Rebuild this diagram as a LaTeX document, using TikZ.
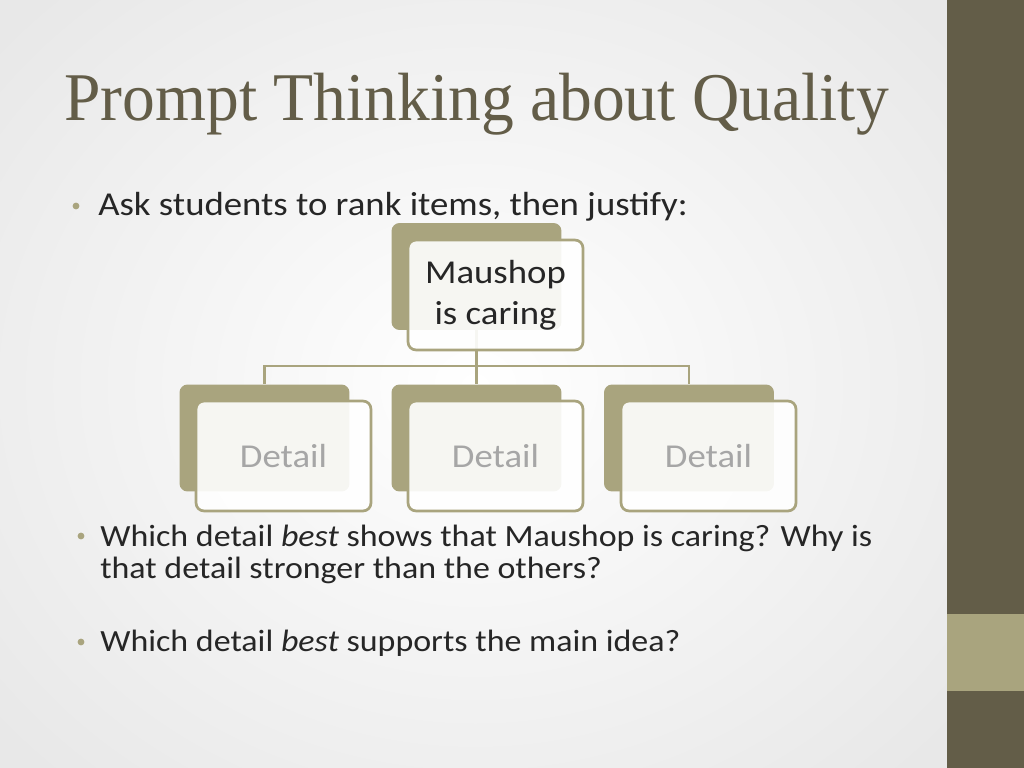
\documentclass[tikz,border=0pt]{standalone}
\usepackage{fontspec}
\setmainfont[FakeStretch=1.1]{Carlito}
\newfontfamily\titlefont[FakeStretch=0.96]{Liberation Serif}
\usetikzlibrary{positioning}

\definecolor{olive}{HTML}{635D48}
\definecolor{tan}{HTML}{A9A47E}
\definecolor{ink}{HTML}{262626}
\definecolor{soft}{HTML}{A6A6A6}

\tikzset{
  backbox/.style={fill=tan, rounded corners=5.6pt, minimum width=119.5pt, minimum height=75.2pt},
  frontbox/.style={draw=tan, line width=1.9pt, fill=white, fill opacity=0.9, text opacity=1,
    rounded corners=5.6pt, minimum width=123pt, minimum height=77.3pt, align=center,
    font=\fontsize{23.5}{29}\selectfont},
  link/.style={draw=tan, line width=1.8pt},
  bullet/.style={circle, fill=tan, inner sep=0pt, minimum size=4.8pt},
  bodytext/.style={anchor=base west, inner sep=0pt, text=ink, align=left}
}

\begin{document}
\begin{tikzpicture}[x=0.703125pt, y=-0.703125pt]
\useasboundingbox (0,0) rectangle (1024,768);
% background and side bar
\shade[inner color=white, outer color=black!9] (-150,-150) rectangle (1100,920);
\fill[olive] (947,0) rectangle (1024,768);
\fill[tan] (947,614) rectangle (1024,691);

% title and bullets
\node[anchor=base west, inner sep=0pt, text=olive, font=\titlefont\fontsize{48}{48}\selectfont] (title) at (64,121) {Prompt Thinking about Quality};
\node[bullet] (b1) at (76,206) {};
\node[bodytext, font=\fontsize{23.5}{29}\selectfont] (t1) at (98,216) {Ask students to rank items, then justify:};

% hierarchy
\node[backbox] (topb) at (476.5,276.5) {};
\node[backbox] (d1b) at (264.5,438) {};
\node[backbox] (d2b) at (476.5,438) {};
\node[backbox] (d3b) at (689,438) {};
\coordinate (bus) at (476.5,366);
\draw[link] (topb.south) -- (bus);
\draw[link] (d1b.north) |- (bus) -| (d3b.north);
\draw[link] (bus) -- (d2b.north);
\node[frontbox, text=ink] (top) at (495.5,295) {Maushop\\is caring};
\node[frontbox, text=soft] (d1) at (283.5,456) {Detail};
\node[frontbox, text=soft] (d2) at (495.5,456) {Detail};
\node[frontbox, text=soft] (d3) at (708.5,456) {Detail};

\node[bullet] (b2) at (81,536) {};
\node[bodytext, font=\fontsize{21.7}{22.3}\selectfont] (t2) at (100,578.2) {Which detail \emph{best} shows that Maushop is caring? Why is\\that detail stronger than the others?};
\node[bullet] (b3) at (81,642) {};
\node[bodytext, font=\fontsize{21.7}{22.3}\selectfont] (t3) at (100,651.5) {Which detail \emph{best} supports the main idea?};
\end{tikzpicture}
\end{document}
